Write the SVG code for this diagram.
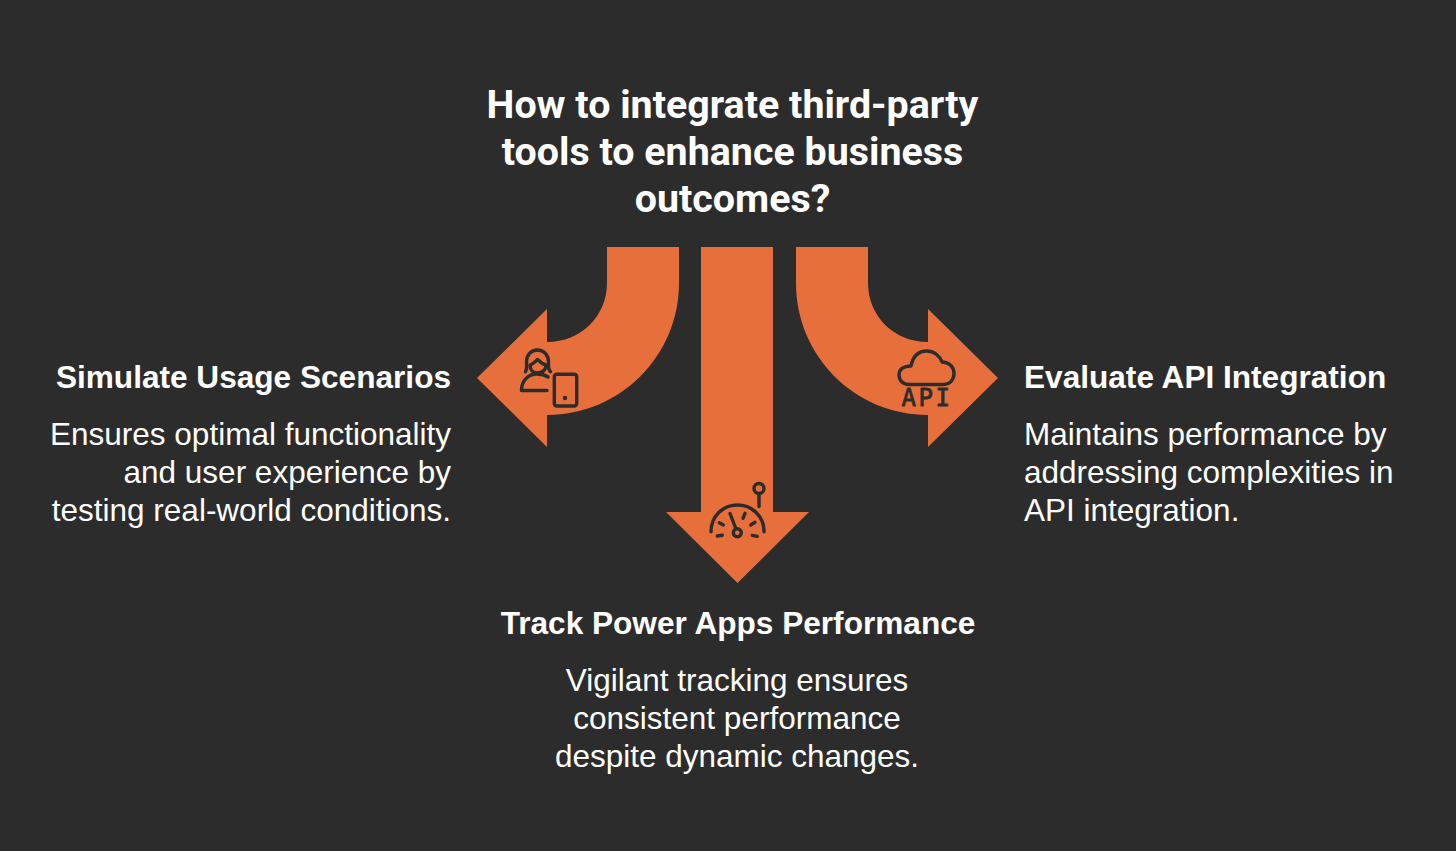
<svg xmlns="http://www.w3.org/2000/svg" width="1456" height="851" viewBox="0 0 1456 851">
<style>
.title{font:700 39.4px Roboto,"Liberation Sans",sans-serif;fill:#fff;text-anchor:middle}
.head{font:700 31.6px "Liberation Sans",Arial,sans-serif;fill:#fff}
.body{font:400 31.5px "Liberation Sans",Arial,sans-serif;fill:#fff}
.arrow{fill:#e76f3c}
.ic{fill:none;stroke:#2c2c2c;stroke-width:3.4;stroke-linecap:round;stroke-linejoin:round}
.dot{fill:#2c2c2c;stroke:none}
</style>
<rect width="1456" height="851" fill="#2c2c2c"/>
<g id="title">
<text class="title" x="732.500" y="118">How to integrate third-party</text>
<text class="title" x="732.500" y="165">tools to enhance business</text>
<text class="title" x="732.500" y="212">outcomes?</text>
</g>
<g id="connectors">
<path class="arrow" d="M607 247H679V283C679 356 620 415 547 415V447L477 378L547 309V342C581 342 607 316 607 283Z"/>
<path class="arrow" d="M701 247H773V512H809L737.500 583L666 512H701Z"/>
<path class="arrow" d="M868 247H796V283C796 356 855 415 928 415V447L998 378L928 309V342C894 342 868 316 868 283Z"/>
</g>
<g id="node-simulate">
<text class="head" x="451" y="388" text-anchor="end">Simulate Usage Scenarios</text>
<g class="body" text-anchor="end">
<text x="451" y="445">Ensures optimal functionality</text>
<text x="451" y="483">and user experience by</text>
<text x="451" y="521">testing real-world conditions.</text>
</g>
<g id="icon-user-tablet" class="ic">
<path d="M525.500 371.700C527.500 368 526.500 366 526.500 362C526.500 355 531 350 537.300 350C544 350 548.500 355 548.500 362C548.500 366 547.500 368 550.500 371.700"/>
<path d="M530 365C533 364 535 362 537.500 359.500C540 362 542.500 364 546 365C546 370 542 373 537.500 373C533 373 530 370 530 365Z"/>
<path d="M548 377C545 375 541 374 537 374C528 374 521.500 381 521.500 390.500H547"/>
<rect x="554.300" y="374.300" width="22.400" height="31.700" rx="2.500"/>
<circle class="dot" cx="565" cy="398" r="2.200"/>
</g>
</g>
<g id="node-track">
<text class="head" x="738" y="634" text-anchor="middle">Track Power Apps Performance</text>
<g class="body" text-anchor="middle">
<text x="737" y="691">Vigilant tracking ensures</text>
<text x="737" y="729">consistent performance</text>
<text x="737" y="767">despite dynamic changes.</text>
</g>
<g id="icon-gauge" class="ic">
<circle cx="759" cy="488.500" r="5"/>
<path d="M759 493.500V506.500"/>
<path d="M711 531.700C711 516 723 505 737.500 505C752 505 764 516 764 531.700"/>
<circle cx="737.300" cy="532.700" r="4"/>
<path d="M735.800 528.500L730 513.500M719.300 522.700L723.300 525M745 513.300L743 518.300M755 522.300L750.700 525M717.300 536L722.300 535.300M752.300 535.300L757.300 536.300"/>
</g>
</g>
<g id="node-evaluate">
<text class="head" x="1024" y="388">Evaluate API Integration</text>
<g class="body">
<text x="1024" y="445">Maintains performance by</text>
<text x="1024" y="483">addressing complexities in</text>
<text x="1024" y="521">API integration.</text>
</g>
<g id="icon-api">
<path class="ic" d="M909 384.500H944C950 384.500 954 379.500 954 373.500C954 367 949 362 942 362C940 356 934 351 927 351C919 351 913 356 911 366C904 366 899 369 899 375C899 380.500 903 384.500 909 384.500Z"/>
<text x="927" y="406" text-anchor="middle" style="font:400 24px 'DejaVu Sans Mono',monospace;letter-spacing:2.500px;fill:#2c2c2c;stroke:#2c2c2c;stroke-width:.8;stroke-linejoin:round">API</text>
</g>
</g>
</svg>
